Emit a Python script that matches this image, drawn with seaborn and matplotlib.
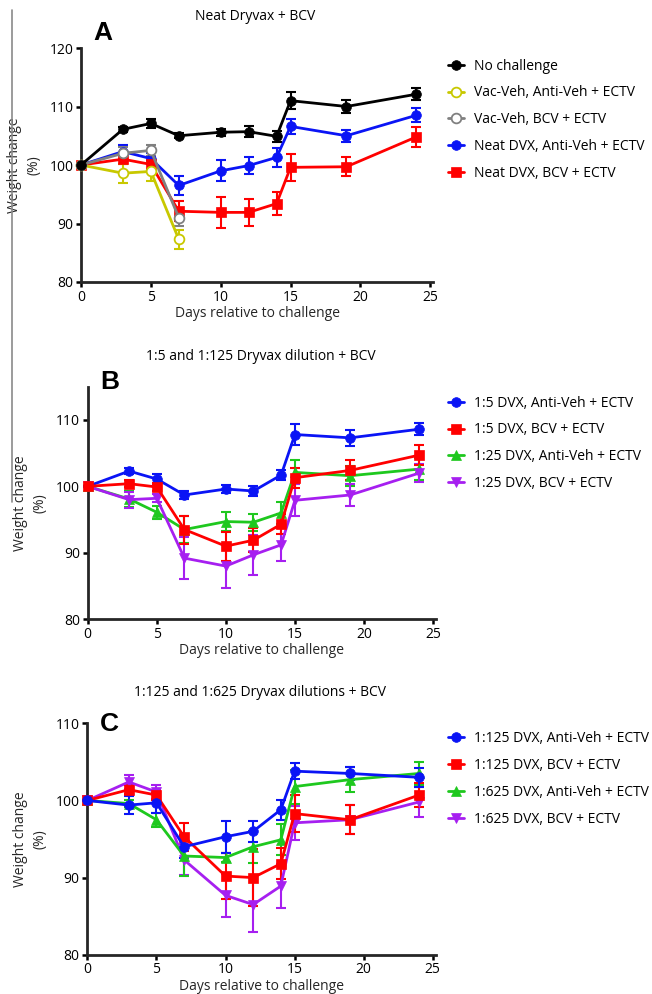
import numpy as np
import pandas as pd
import matplotlib
matplotlib.use("Agg")
import matplotlib.pyplot as plt
import seaborn as sns

### Data

days = [0, 3, 5, 7, 10, 12, 14, 15, 19, 24]
days_short = [0, 3, 5, 7]

# panel A: neat Dryvax + BCV
a_no_chal = [100, 106.1, 107.1, 105.0, 105.6, 105.7, 104.9, 111.0, 110.0, 112.1]
a_no_chal_err = [0, 0.4, 0.8, 0.4, 0.6, 0.9, 0.9, 1.4, 1.1, 1.0]
a_vac_anti = [100, 98.6, 98.9, 87.3]
a_vac_anti_err = [0, 1.6, 1.6, 1.6]
a_vac_bcv = [100, 102.0, 102.5, 91.0]
a_vac_bcv_err = [0, 1.0, 0.9, 1.4]
a_neat_anti = [100, 102.3, 101.1, 96.5, 99.0, 99.9, 101.3, 106.6, 105.0, 108.5]
a_neat_anti_err = [0, 1.2, 1.0, 1.7, 1.8, 1.5, 1.6, 1.3, 1.0, 1.2]
a_neat_bcv = [100, 101.0, 100.1, 92.1, 91.9, 91.9, 93.4, 99.6, 99.7, 104.8]
a_neat_bcv_err = [0, 0.9, 0.8, 1.7, 2.6, 2.3, 1.9, 2.3, 1.6, 1.7]

# panel B: 1:5 and 1:25 dilutions
b_5_anti = [100, 102.3, 101.1, 98.7, 99.6, 99.3, 101.7, 107.8, 107.3, 108.6]
b_5_anti_err = [0, 0.4, 0.8, 0.6, 0.6, 0.7, 0.8, 1.6, 1.2, 0.9]
b_5_bcv = [100, 100.4, 99.9, 93.5, 91.0, 91.9, 94.3, 101.3, 102.4, 104.7]
b_5_bcv_err = [0, 0.5, 0.6, 2.1, 2.2, 1.8, 1.5, 1.5, 1.5, 1.5]
b_25_anti = [100, 98.1, 96.1, 93.5, 94.7, 94.6, 96.0, 102.1, 101.6, 102.6]
b_25_anti_err = [0, 1.2, 1.0, 2.0, 1.4, 1.3, 1.6, 1.8, 1.5, 1.6]
b_25_bcv = [100, 98.0, 98.2, 89.2, 88.0, 89.7, 91.2, 97.9, 98.7, 102.0]
b_25_bcv_err = [0, 1.2, 0.6, 3.2, 3.3, 3.0, 2.5, 2.4, 1.6, 1.4]

# panel C: 1:125 and 1:625 dilutions
c_125_anti = [100, 99.4, 99.7, 94.0, 95.3, 96.0, 98.8, 103.8, 103.5, 103.0]
c_125_anti_err = [0, 1.2, 1.3, 1.5, 2.1, 1.4, 1.3, 1.0, 0.9, 1.2]
c_125_bcv = [100, 101.4, 100.7, 95.3, 90.2, 90.0, 91.8, 98.3, 97.5, 100.7]
c_125_bcv_err = [0, 0.6, 0.7, 1.8, 3.0, 3.7, 2.0, 2.4, 1.9, 1.6]
c_625_anti = [100, 99.6, 97.5, 92.8, 92.6, 94.0, 94.9, 101.8, 102.7, 103.5]
c_625_anti_err = [0, 0.5, 0.9, 2.6, 0.6, 2.1, 2.0, 2.2, 1.6, 1.5]
c_625_bcv = [100, 102.4, 101.1, 92.3, 87.7, 86.5, 88.9, 97.1, 97.5, 99.8]
c_625_bcv_err = [0, 0.9, 0.9, 2.0, 2.8, 3.6, 2.8, 2.2, 1.9, 2.0]

BLACK = "#000000"
YELLOW = "#c8c800"
GRAY = "#808080"
BLUE = "#0a14f5"
RED = "#ff0000"
GREEN = "#1ec81e"
PURPLE = "#a61ff0"


### Style

sns.set_theme(style="ticks")
plt.rcParams["font.family"] = ["Open Sans", "DejaVu Sans"]
plt.rcParams["axes.linewidth"] = 2
plt.rcParams["xtick.major.width"] = 1.8
plt.rcParams["ytick.major.width"] = 1.8
plt.rcParams["xtick.major.size"] = 3.5
plt.rcParams["ytick.major.size"] = 3.5
plt.rcParams["xtick.labelsize"] = 10
plt.rcParams["ytick.labelsize"] = 10
plt.rcParams["text.color"] = "black"
plt.rcParams["xtick.color"] = "black"
plt.rcParams["ytick.color"] = "black"


def draw_series(ax, x, y, err, color, marker, label, open_marker=False):
    sns.lineplot(x=x, y=y, ax=ax, color=color, marker=marker, markersize=7,
                 linewidth=2, label=label, errorbar=None,
                 markerfacecolor="white" if open_marker else color,
                 markeredgecolor=color, markeredgewidth=1.3 if open_marker else 0.5,
                 clip_on=False, zorder=3)
    ax.errorbar(x, y, yerr=err, fmt="none", ecolor=color, elinewidth=1.5,
                capsize=3.5, capthick=1.5, clip_on=False, zorder=2)


def style_axes(ax, ylim, yticks, letter, letter_y):
    ax.set_xlim(0, 25.2)
    ax.set_ylim(*ylim)
    ax.set_xticks([0, 5, 10, 15, 20, 25])
    ax.set_yticks(yticks)
    ax.set_xlabel("Days relative to challenge", fontsize=10, labelpad=1)
    ax.set_ylabel("Weight change\n(%)", fontsize=10, labelpad=6, linespacing=1.4)
    sns.despine(ax=ax)
    ax.tick_params(pad=2)
    ax.text(0.035, letter_y, letter, transform=ax.transAxes, fontsize=19,
            fontweight="bold", family="Liberation Sans", va="center")


def add_legend(ax, order, top, spacing):
    handles, labels = ax.get_legend_handles_labels()
    hmap = dict(zip(labels, handles))
    ax.legend([hmap[k] for k in order], order, loc="upper left",
              bbox_to_anchor=(0.687, top), bbox_transform=fig.transFigure,
              frameon=False, fontsize=10, handlelength=1.15, handletextpad=0.75,
              labelspacing=spacing, borderpad=0, borderaxespad=0)


fig = plt.figure(figsize=(6.52, 9.94), dpi=100)

## Panel A
ax_a = fig.add_axes([0.1242, 0.7163, 0.540, 0.2354])
draw_series(ax_a, days, a_neat_anti, a_neat_anti_err, BLUE, "o", "Neat DVX, Anti-Veh + ECTV")
draw_series(ax_a, days, a_neat_bcv, a_neat_bcv_err, RED, "s", "Neat DVX, BCV + ECTV")
draw_series(ax_a, days_short, a_vac_anti, a_vac_anti_err, YELLOW, "o", "Vac-Veh, Anti-Veh + ECTV", open_marker=True)
draw_series(ax_a, days_short, a_vac_bcv, a_vac_bcv_err, GRAY, "o", "Vac-Veh, BCV + ECTV", open_marker=True)
draw_series(ax_a, days, a_no_chal, a_no_chal_err, BLACK, "o", "No challenge")
style_axes(ax_a, (80, 120), [80, 90, 100, 110, 120], "A", 1.064)
add_legend(ax_a, ["No challenge", "Vac-Veh, Anti-Veh + ECTV", "Vac-Veh, BCV + ECTV",
                  "Neat DVX, Anti-Veh + ECTV", "Neat DVX, BCV + ECTV"], 0.941, 0.85)

## Panel B
ax_b = fig.add_axes([0.1345, 0.377, 0.534, 0.234])
draw_series(ax_b, days, b_5_anti, b_5_anti_err, BLUE, "o", "1:5 DVX, Anti-Veh + ECTV")
draw_series(ax_b, days, b_25_anti, b_25_anti_err, GREEN, "^", "1:25 DVX, Anti-Veh + ECTV")
draw_series(ax_b, days, b_25_bcv, b_25_bcv_err, PURPLE, "v", "1:25 DVX, BCV + ECTV")
draw_series(ax_b, days, b_5_bcv, b_5_bcv_err, RED, "s", "1:5 DVX, BCV + ECTV")
style_axes(ax_b, (80, 115), [80, 90, 100, 110], "B", 1.02)
add_legend(ax_b, ["1:5 DVX, Anti-Veh + ECTV", "1:5 DVX, BCV + ECTV",
                  "1:25 DVX, Anti-Veh + ECTV", "1:25 DVX, BCV + ECTV"], 0.602, 0.85)

## Panel C
ax_c = fig.add_axes([0.134, 0.0395, 0.534, 0.2328])
draw_series(ax_c, days, c_625_bcv, c_625_bcv_err, PURPLE, "v", "1:625 DVX, BCV + ECTV")
draw_series(ax_c, days, c_625_anti, c_625_anti_err, GREEN, "^", "1:625 DVX, Anti-Veh + ECTV")
draw_series(ax_c, days, c_125_bcv, c_125_bcv_err, RED, "s", "1:125 DVX, BCV + ECTV")
draw_series(ax_c, days, c_125_anti, c_125_anti_err, BLUE, "o", "1:125 DVX, Anti-Veh + ECTV")
style_axes(ax_c, (80, 110), [80, 90, 100, 110], "C", 0.995)
add_legend(ax_c, ["1:125 DVX, Anti-Veh + ECTV", "1:125 DVX, BCV + ECTV",
                  "1:625 DVX, Anti-Veh + ECTV", "1:625 DVX, BCV + ECTV"], 0.2645, 0.85)

# panel titles
fig.text(255 / 652, 1 - 17 / 994, "Neat Dryvax + BCV", fontsize=10, ha="center", va="center")
fig.text(260.5 / 652, 1 - 357 / 994, "1:5 and 1:125 Dryvax dilution + BCV", fontsize=10, ha="center", va="center")
fig.text(259.7 / 652, 1 - 693 / 994, "1:125 and 1:625 Dryvax dilutions + BCV", fontsize=10, ha="center", va="center")

# thin gray rule at the left edge
fig.add_artist(plt.Line2D([12 / 652, 12 / 652], [1 - 10 / 994, 1 - 502 / 994],
                          color="#8a8a8a", linewidth=1.2))

fig.savefig("out.png", dpi=100)
